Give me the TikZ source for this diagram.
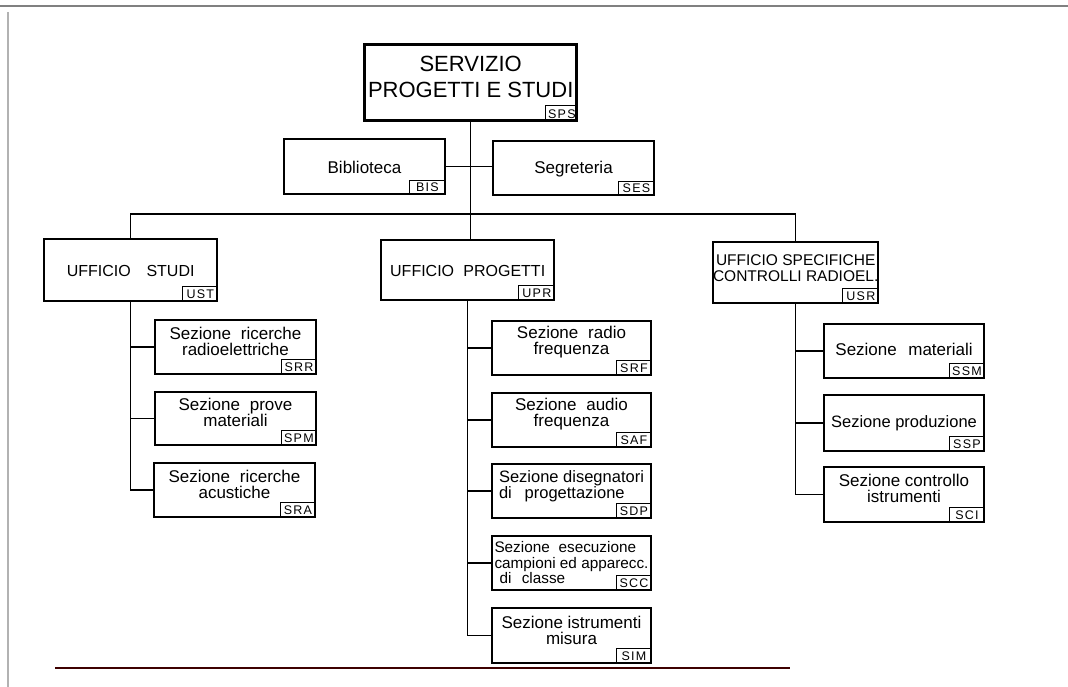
\documentclass[tikz,border=0pt]{standalone}
\usepackage{fontspec}
\setmainfont{Liberation Sans}
\usetikzlibrary{calc}
\tikzset{
  unitbox/.style={draw, rectangle, inner sep=0pt, anchor=north west},
  headbox/.style={unitbox, line width=3.4pt},
  officebox/.style={unitbox, line width=2.4pt},
  secbox/.style={unitbox, line width=2pt},
  boxtext/.style={align=center, inner sep=0pt, font=\fontsize{17}{16}\selectfont},
  officetext/.style={align=center, inner sep=0pt, font=\fontsize{16}{16}\selectfont},
  headtext/.style={align=center, inner sep=0pt, font=\fontsize{22}{26}\selectfont},
  tag/.style={draw, line width=1.1pt, anchor=south east, inner sep=0pt, minimum width=35pt, minimum height=15pt, font=\fontsize{12.5}{12.5}\selectfont\addfontfeature{LetterSpace=10}},
  link/.style={line width=1.2pt},
  pageedge/.style={line width=1.2pt, black!50},
}
\begin{document}
\begin{tikzpicture}[x=1pt, y=-1pt]
\useasboundingbox (0,0) rectangle (1068,687);
% page edges of the scan
\draw[pageedge] (0,6) -- (1068,6);
\draw[pageedge, black!30] (8,12) -- (8,687);
\draw[line width=2.6pt, black!65!red!70!black] (55,668) -- (790,668);

% head
\node[headbox, minimum width=212pt, minimum height=76pt] (sps) at (363,43) {};
\node[headtext] (sps-t) at ([yshift=6pt]sps.center) {SERVIZIO\\PROGETTI E STUDI};
\node[tag, minimum width=32pt, minimum height=16pt] (sps-g) at (sps.south east) {SPS};

\node[secbox, minimum width=161pt, minimum height=55pt] (bib) at (283,138) {};
\node[boxtext] (bib-t) at ([yshift=-1pt]bib.center) {Biblioteca};
\node[tag, minimum width=36pt, minimum height=14pt] (bib-g) at (bib.south east) {BIS};

\node[secbox, minimum width=161pt, minimum height=54pt] (ses) at (492,140) {};
\node[boxtext] (ses-t) at ([yshift=-1pt]ses.center) {Segreteria};
\node[tag, minimum width=36pt, minimum height=14pt] (ses-g) at (ses.south east) {SES};

% offices
\node[officebox, minimum width=173pt, minimum height=62pt] (ust) at (43,238) {};
\node[officetext] (ust-t) at ([yshift=-1pt]ust.center) {UFFICIO\hspace{0.7em} STUDI};
\node[tag] (ust-g) at (ust.south east) {UST};

\node[officebox, minimum width=173pt, minimum height=60pt] (upr) at (380,239) {};
\node[officetext] (upr-t) at ([yshift=-1pt]upr.center) {UFFICIO\hspace{0.3em} PROGETTI};
\node[tag, minimum width=36pt] (upr-g) at (upr.south east) {UPR};

\node[officebox, minimum width=165pt, minimum height=61pt] (usr) at (712,241) {};
\node[officetext, font=\fontsize{15.5}{16}\selectfont] (usr-t) at ([yshift=5pt]usr.center) {UFFICIO SPECIFICHE\\CONTROLLI RADIOEL.};
\node[tag, minimum width=36pt] (usr-g) at (usr.south east) {USR};

% sections under UST
\node[secbox, minimum width=161pt, minimum height=54pt] (srr) at (154,319) {};
\node[boxtext] (srr-t) at ([yshift=6pt]srr.center) {Sezione\hspace{0.3em} ricerche\\radioelettriche};
\node[tag] (srr-g) at (srr.south east) {SRR};

\node[secbox, minimum width=161pt, minimum height=53pt] (spm) at (154,391) {};
\node[boxtext] (spm-t) at ([yshift=6pt]spm.center) {Sezione\hspace{0.3em} prove\\materiali};
\node[tag] (spm-g) at (spm.south east) {SPM};

\node[secbox, minimum width=161pt, minimum height=54pt] (sra) at (153,462) {};
\node[boxtext] (sra-t) at ([yshift=6pt]sra.center) {Sezione\hspace{0.3em} ricerche\\acustiche};
\node[tag] (sra-g) at (sra.south east) {SRA};

% sections under UPR
\node[secbox, minimum width=159pt, minimum height=54pt] (srf) at (491,320) {};
\node[boxtext] (srf-t) at ([yshift=6pt]srf.center) {Sezione\hspace{0.3em} radio\\frequenza};
\node[tag] (srf-g) at (srf.south east) {SRF};

\node[secbox, minimum width=159pt, minimum height=54pt] (saf) at (491,392) {};
\node[boxtext] (saf-t) at ([yshift=6pt]saf.center) {Sezione\hspace{0.3em} audio\\frequenza};
\node[tag] (saf-g) at (saf.south east) {SAF};

\node[secbox, minimum width=159pt, minimum height=54pt] (sdp) at (491,463) {};
\node[boxtext, align=left, font=\fontsize{16.5}{16}\selectfont] (sdp-t) at ([yshift=5pt]sdp.center) {Sezione disegnatori\\di\hspace{0.5em} progettazione};
\node[tag] (sdp-g) at (sdp.south east) {SDP};

\node[secbox, minimum width=159pt, minimum height=54pt] (scc) at (491,535) {};
\node[boxtext, align=left, font=\fontsize{15.3}{15.5}\selectfont] (scc-t) at (scc.center) {Sezione\hspace{0.3em} esecuzione\\campioni ed apparecc.\\\hspace*{5pt}di\hspace{0.4em} classe};
\node[tag] (scc-g) at (scc.south east) {SCC};

\node[secbox, minimum width=159pt, minimum height=55pt] (sim) at (491,607) {};
\node[boxtext] (sim-t) at ([yshift=5pt]sim.center) {Sezione istrumenti\\misura};
\node[tag] (sim-g) at (sim.south east) {SIM};

% sections under USR
\node[secbox, minimum width=160pt, minimum height=54pt] (ssm) at (823,323) {};
\node[boxtext] (ssm-t) at ([yshift=2pt]ssm.center) {Sezione\hspace{0.4em} materiali};
\node[tag] (ssm-g) at (ssm.south east) {SSM};

\node[secbox, minimum width=160pt, minimum height=56pt] (ssp) at (823,394) {};
\node[boxtext, font=\fontsize{16.5}{16}\selectfont] (ssp-t) at (ssp.center) {Sezione produzione};
\node[tag] (ssp-g) at (ssp.south east) {SSP};

\node[secbox, minimum width=160pt, minimum height=55pt] (sci) at (823,466) {};
\node[boxtext] (sci-t) at ([yshift=6pt]sci.center) {Sezione controllo\\istrumenti};
\node[tag] (sci-g) at (sci.south east) {SCI};

% connectors
\coordinate (bus) at (469,214);
\draw[link] (sps.south) -- (sps.south |- upr.north);
\draw[link] (bib.east) -- (bib.east -| ses.west);
\draw[link] (ust.north) |- (bus) -| (usr.north);

\draw[link] (ust.south) |- (sra.west);
\draw[link] (ust.south |- srr.west) -- (srr.west);
\draw[link] (ust.south |- spm.west) -- (spm.west);

\draw[link] (upr.south) |- (sim.west);
\draw[link] (upr.south |- srf.west) -- (srf.west);
\draw[link] (upr.south |- saf.west) -- (saf.west);
\draw[link] (upr.south |- sdp.west) -- (sdp.west);
\draw[link] (upr.south |- scc.west) -- (scc.west);

\draw[link] (usr.south) |- (sci.west);
\draw[link] (usr.south |- ssm.west) -- (ssm.west);
\draw[link] (usr.south |- ssp.west) -- (ssp.west);
\end{tikzpicture}
\end{document}
